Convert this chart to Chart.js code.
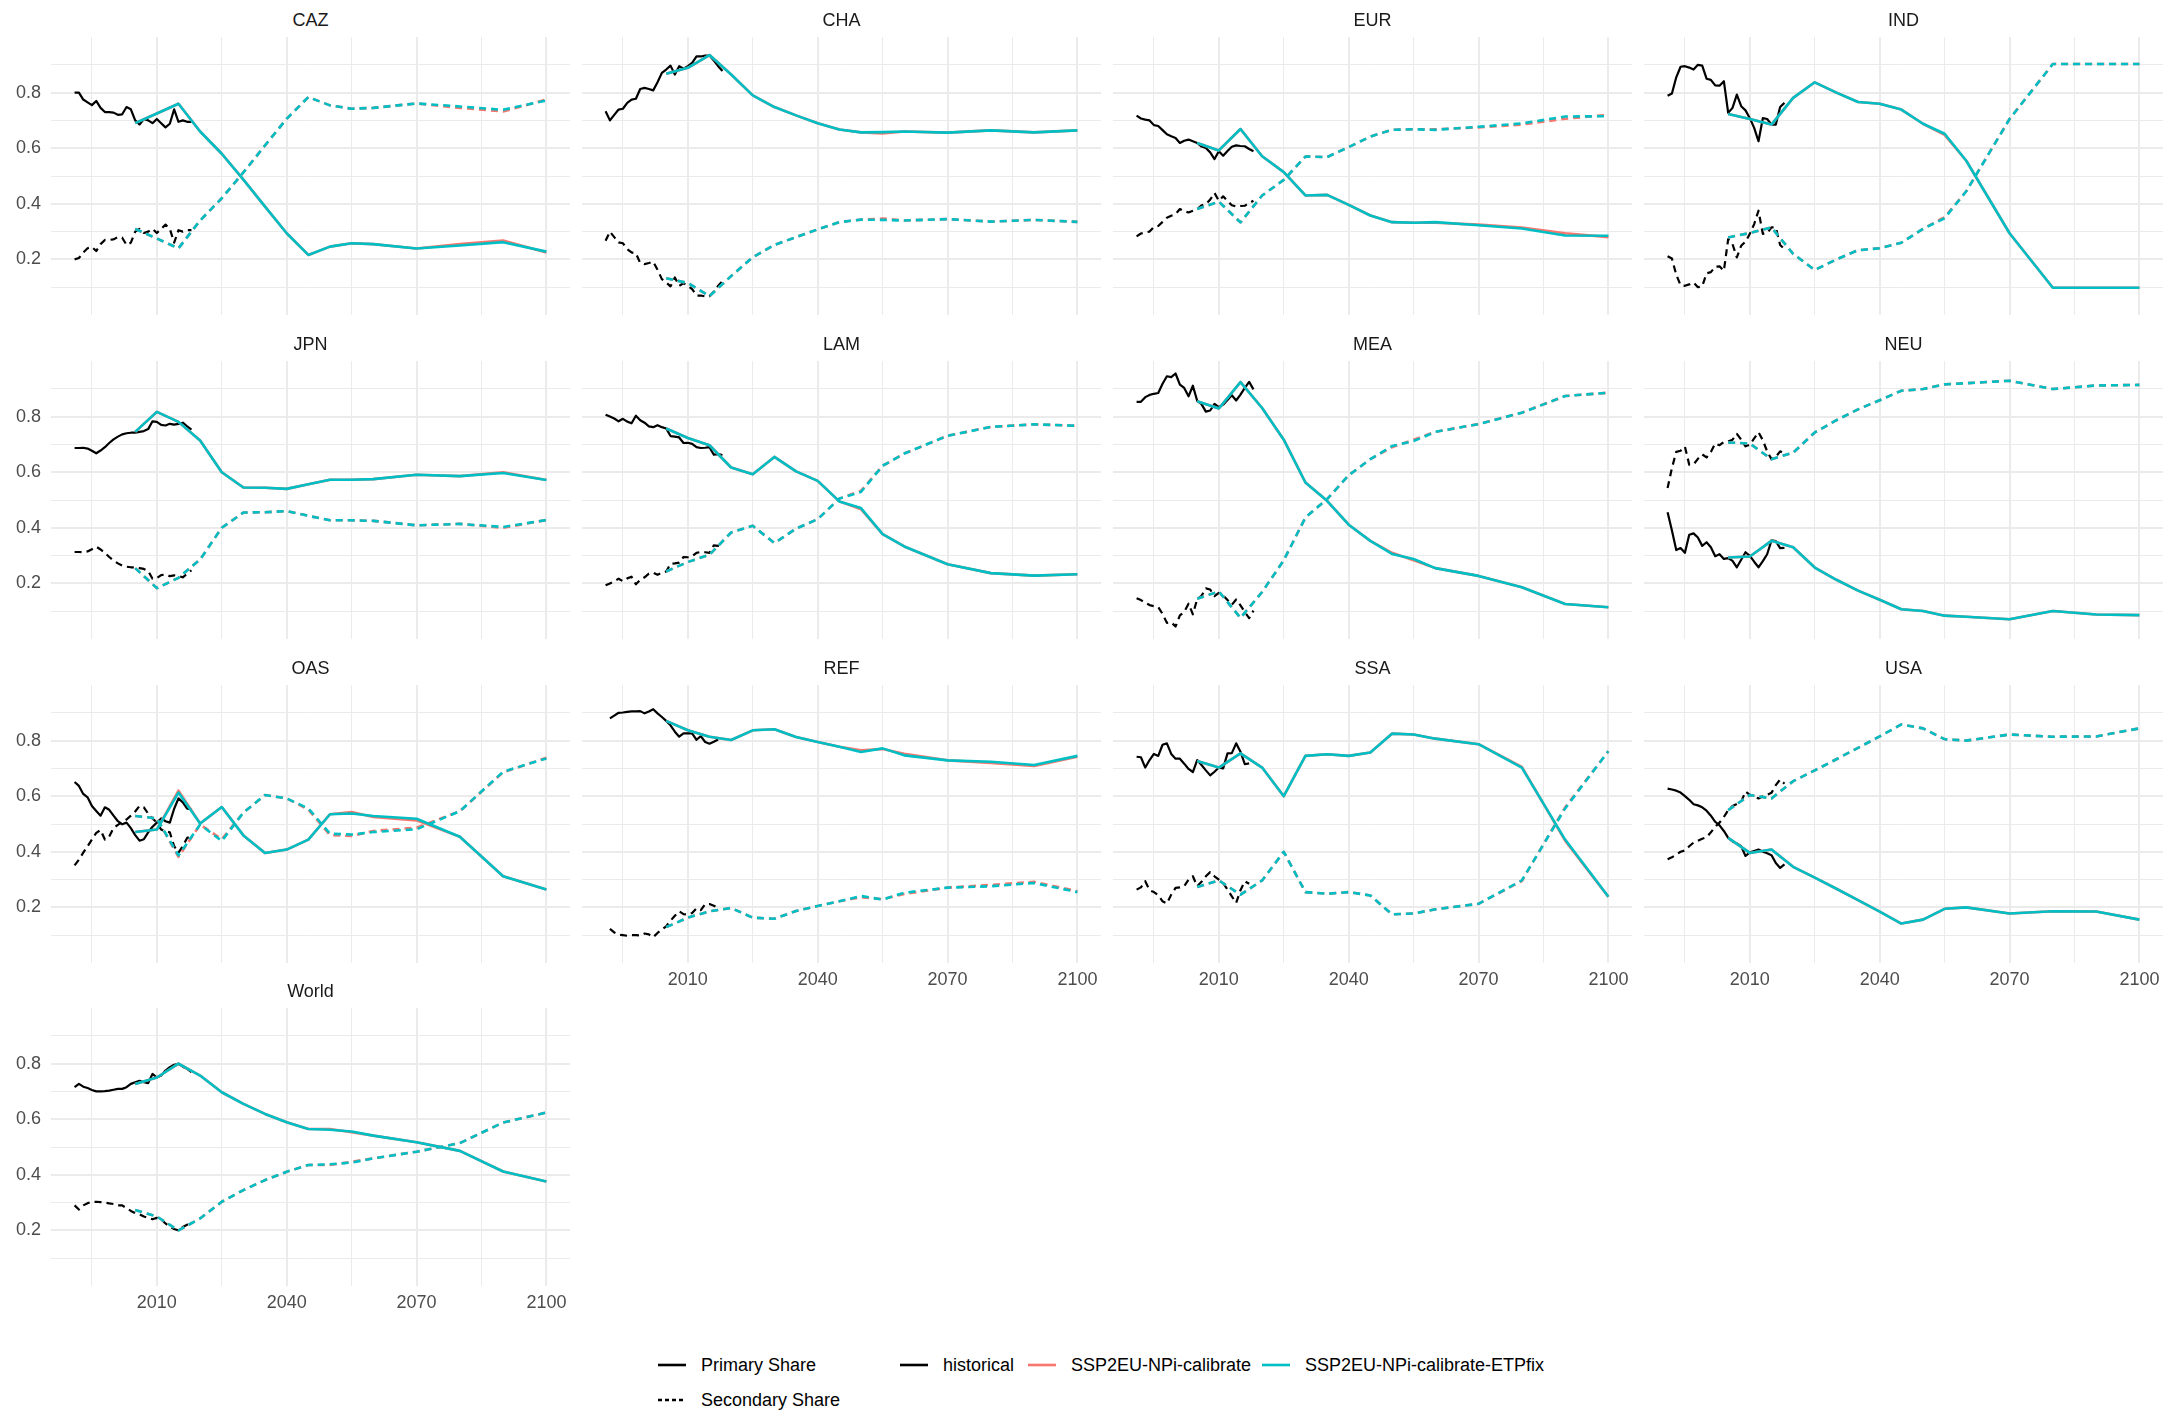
<!DOCTYPE html>
<html>
<head>
<meta charset="utf-8">
<script src="https://cdn.jsdelivr.net/npm/chart.js@4.4.1/dist/chart.umd.min.js"></script>
<style>
  body { margin: 0; background: #fff; width: 2179px; height: 1415px; position: relative; overflow: hidden;
         font-family: "Liberation Sans", Arial, sans-serif; }
  canvas { position: absolute; }
  .strip { position: absolute; text-align: center; font-size: 18px; line-height: 20px; color: #1a1a1a; }
  .leg { position: absolute; height: 20px; display: flex; align-items: center; font-size: 18px; color: #000; white-space: nowrap; }
  .leg svg { margin-right: 15px; }
</style>
</head>
<body>
<script>
const regions = ["CAZ", "CHA", "EUR", "IND", "JPN", "LAM", "MEA", "NEU", "OAS", "REF", "SSA", "USA", "World"];

const histYears = [1991, 1992, 1993, 1994, 1995, 1996, 1997, 1998, 1999, 2000, 2001, 2002, 2003, 2004,
                   2005, 2006, 2007, 2008, 2009, 2010, 2011, 2012, 2013, 2014, 2015, 2016, 2017, 2018];
const scenYears = [2005, 2010, 2015, 2020, 2025, 2030, 2035, 2040, 2045, 2050, 2055, 2060, 2070, 2080, 2090, 2100];

// historical, one row per region (same order as regions)
const histPrimary = [
  [0.80, 0.80, 0.775, 0.765, 0.755, 0.77, 0.745, 0.73, 0.73, 0.728, 0.72, 0.722, 0.748, 0.74, 0.70, 0.685, 0.705, 0.70, 0.69, 0.705, 0.69, 0.675, 0.688, 0.74, 0.695, 0.70, 0.695, 0.695],
  [0.733, 0.70, 0.72, 0.739, 0.742, 0.763, 0.775, 0.778, 0.813, 0.817, 0.813, 0.808, 0.837, 0.871, 0.883, 0.897, 0.865, 0.895, 0.886, 0.895, 0.907, 0.93, 0.93, 0.933, 0.933, 0.915, 0.895, 0.878],
  [0.717, 0.707, 0.703, 0.70, 0.683, 0.68, 0.665, 0.65, 0.643, 0.637, 0.619, 0.627, 0.631, 0.625, 0.619, 0.606, 0.601, 0.585, 0.561, 0.589, 0.573, 0.59, 0.605, 0.61, 0.608, 0.607, 0.597, 0.589],
  [0.789, 0.797, 0.855, 0.893, 0.895, 0.89, 0.883, 0.90, 0.897, 0.85, 0.846, 0.826, 0.825, 0.841, 0.727, 0.745, 0.793, 0.751, 0.736, 0.708, 0.673, 0.625, 0.708, 0.705, 0.685, 0.685, 0.748, 0.763],
  [0.687, 0.687, 0.688, 0.685, 0.677, 0.668, 0.678, 0.69, 0.705, 0.718, 0.728, 0.736, 0.74, 0.742, 0.742, 0.745, 0.748, 0.755, 0.783, 0.781, 0.77, 0.768, 0.774, 0.771, 0.774, 0.778, 0.765, 0.753],
  [0.807, 0.80, 0.793, 0.783, 0.792, 0.782, 0.776, 0.803, 0.787, 0.778, 0.765, 0.762, 0.769, 0.762, 0.757, 0.73, 0.728, 0.725, 0.705, 0.706, 0.702, 0.69, 0.687, 0.688, 0.69, 0.663, 0.665, 0.662],
  [0.853, 0.853, 0.87, 0.878, 0.882, 0.885, 0.918, 0.945, 0.942, 0.955, 0.915, 0.903, 0.873, 0.911, 0.857, 0.845, 0.818, 0.822, 0.846, 0.834, 0.843, 0.86, 0.877, 0.858, 0.879, 0.903, 0.925, 0.898],
  [0.456, 0.39, 0.32, 0.327, 0.31, 0.375, 0.38, 0.365, 0.335, 0.348, 0.33, 0.298, 0.305, 0.288, 0.291, 0.281, 0.258, 0.285, 0.312, 0.299, 0.278, 0.258, 0.28, 0.305, 0.355, 0.352, 0.327, 0.328],
  [0.651, 0.637, 0.608, 0.596, 0.565, 0.547, 0.53, 0.56, 0.551, 0.53, 0.51, 0.499, 0.505, 0.485, 0.46, 0.44, 0.445, 0.47, 0.49, 0.505, 0.52, 0.51, 0.505, 0.555, 0.592, 0.578, 0.555, 0.553],
  [null, 0.88, 0.89, 0.90, 0.901, 0.903, 0.905, 0.905, 0.906, 0.898, 0.905, 0.913, 0.898, 0.885, 0.871, 0.855, 0.832, 0.814, 0.826, 0.826, 0.826, 0.803, 0.816, 0.795, 0.789, 0.796, 0.804, null],
  [0.742, 0.74, 0.703, 0.73, 0.752, 0.745, 0.785, 0.79, 0.752, 0.735, 0.735, 0.717, 0.698, 0.687, 0.73, 0.712, 0.693, 0.675, 0.688, 0.703, 0.70, 0.754, 0.755, 0.79, 0.76, 0.715, 0.718, null],
  [0.627, 0.624, 0.62, 0.613, 0.60, 0.587, 0.571, 0.567, 0.56, 0.548, 0.53, 0.508, 0.495, 0.475, 0.45, 0.437, 0.43, 0.42, 0.385, 0.398, 0.403, 0.408, 0.40, 0.395, 0.388, 0.36, 0.342, 0.355],
  [0.715, 0.727, 0.717, 0.712, 0.705, 0.70, 0.70, 0.701, 0.703, 0.706, 0.709, 0.709, 0.715, 0.727, 0.733, 0.738, 0.733, 0.73, 0.763, 0.75, 0.757, 0.775, 0.787, 0.796, 0.799, 0.789, 0.781, 0.769]
];
const histSecondary = [
  [0.20, 0.205, 0.225, 0.24, 0.245, 0.23, 0.255, 0.27, 0.27, 0.272, 0.28, 0.278, 0.252, 0.26, 0.30, 0.31, 0.295, 0.30, 0.31, 0.295, 0.31, 0.325, 0.31, 0.26, 0.305, 0.30, 0.305, 0.305],
  [0.267, 0.30, 0.28, 0.261, 0.258, 0.237, 0.225, 0.222, 0.187, 0.183, 0.187, 0.192, 0.163, 0.129, 0.117, 0.103, 0.135, 0.105, 0.114, 0.105, 0.093, 0.07, 0.07, 0.067, 0.067, 0.085, 0.105, 0.122],
  [0.283, 0.293, 0.297, 0.30, 0.317, 0.32, 0.335, 0.35, 0.357, 0.363, 0.381, 0.373, 0.369, 0.375, 0.381, 0.394, 0.399, 0.415, 0.439, 0.411, 0.427, 0.41, 0.395, 0.39, 0.392, 0.393, 0.403, 0.411],
  [0.211, 0.203, 0.145, 0.107, 0.105, 0.11, 0.117, 0.10, 0.103, 0.15, 0.154, 0.174, 0.175, 0.159, 0.273, 0.255, 0.207, 0.249, 0.264, 0.292, 0.327, 0.375, 0.292, 0.295, 0.315, 0.315, 0.252, 0.237],
  [0.313, 0.313, 0.312, 0.315, 0.323, 0.332, 0.322, 0.31, 0.295, 0.282, 0.272, 0.264, 0.26, 0.258, 0.258, 0.255, 0.252, 0.245, 0.217, 0.219, 0.23, 0.232, 0.226, 0.229, 0.226, 0.222, 0.235, 0.247],
  [0.193, 0.20, 0.207, 0.217, 0.208, 0.218, 0.224, 0.197, 0.213, 0.222, 0.235, 0.238, 0.231, 0.238, 0.243, 0.27, 0.272, 0.275, 0.295, 0.294, 0.298, 0.31, 0.313, 0.312, 0.31, 0.337, 0.335, 0.338],
  [0.147, 0.14, 0.13, 0.122, 0.118, 0.115, 0.09, 0.058, 0.06, 0.045, 0.085, 0.097, 0.127, 0.089, 0.143, 0.155, 0.182, 0.178, 0.154, 0.166, 0.157, 0.14, 0.123, 0.142, 0.121, 0.097, 0.075, 0.102],
  [0.543, 0.615, 0.673, 0.677, 0.692, 0.627, 0.628, 0.648, 0.664, 0.653, 0.673, 0.703, 0.697, 0.709, 0.71, 0.717, 0.738, 0.717, 0.693, 0.699, 0.722, 0.744, 0.715, 0.675, 0.647, 0.655, 0.675, 0.668],
  [0.351, 0.372, 0.397, 0.42, 0.444, 0.468, 0.478, 0.444, 0.455, 0.486, 0.497, 0.507, 0.516, 0.53, 0.545, 0.565, 0.56, 0.537, 0.52, 0.505, 0.48, 0.474, 0.47, 0.42, 0.397, 0.42, 0.45, 0.455],
  [null, 0.123, 0.11, 0.102, 0.10, 0.098, 0.10, 0.10, 0.099, 0.106, 0.103, 0.093, 0.108, 0.12, 0.132, 0.152, 0.17, 0.186, 0.176, 0.174, 0.18, 0.197, 0.19, 0.212, 0.212, 0.206, 0.198, null],
  [0.264, 0.272, 0.294, 0.262, 0.255, 0.244, 0.222, 0.214, 0.246, 0.27, 0.272, 0.276, 0.30, 0.312, 0.276, 0.292, 0.312, 0.327, 0.312, 0.30, 0.288, 0.264, 0.24, 0.216, 0.262, 0.294, 0.285, null],
  [0.373, 0.38, 0.39, 0.40, 0.405, 0.42, 0.433, 0.44, 0.447, 0.452, 0.47, 0.49, 0.505, 0.525, 0.55, 0.565, 0.572, 0.58, 0.617, 0.605, 0.598, 0.592, 0.60, 0.605, 0.612, 0.64, 0.66, 0.645],
  [0.29, 0.275, 0.29, 0.298, 0.302, 0.303, 0.302, 0.30, 0.297, 0.295, 0.29, 0.29, 0.28, 0.27, 0.262, 0.258, 0.25, 0.245, 0.24, 0.245, 0.24, 0.225, 0.213, 0.205, 0.20, 0.212, 0.22, 0.232]
];

// SSP2EU-NPi-calibrate-ETPfix
const etpPrimary = [
  [0.69, 0.725, 0.76, 0.66, 0.58, 0.487, 0.39, 0.294, 0.216, 0.246, 0.258, 0.255, 0.239, 0.25, 0.262, 0.228],
  [0.868, 0.889, 0.935, 0.865, 0.79, 0.748, 0.718, 0.69, 0.667, 0.657, 0.658, 0.66, 0.656, 0.664, 0.657, 0.664],
  [0.619, 0.592, 0.669, 0.571, 0.514, 0.43, 0.432, 0.396, 0.358, 0.334, 0.332, 0.334, 0.323, 0.311, 0.286, 0.285],
  [0.723, 0.705, 0.685, 0.781, 0.837, 0.80, 0.766, 0.76, 0.739, 0.688, 0.652, 0.555, 0.294, 0.098, 0.098, 0.098],
  [0.745, 0.817, 0.781, 0.714, 0.60, 0.545, 0.544, 0.54, 0.557, 0.573, 0.573, 0.575, 0.591, 0.586, 0.597, 0.572],
  [0.757, 0.723, 0.697, 0.617, 0.593, 0.655, 0.603, 0.569, 0.495, 0.471, 0.377, 0.333, 0.269, 0.237, 0.228, 0.233],
  [0.855, 0.829, 0.924, 0.831, 0.717, 0.563, 0.497, 0.411, 0.353, 0.306, 0.288, 0.255, 0.227, 0.186, 0.126, 0.114],
  [0.293, 0.297, 0.353, 0.33, 0.257, 0.213, 0.174, 0.141, 0.107, 0.101, 0.084, 0.08, 0.071, 0.101, 0.088, 0.086],
  [0.471, 0.48, 0.613, 0.502, 0.561, 0.459, 0.396, 0.408, 0.444, 0.535, 0.538, 0.529, 0.519, 0.454, 0.312, 0.264],
  [0.871, 0.837, 0.814, 0.802, 0.837, 0.841, 0.813, 0.795, 0.778, 0.759, 0.772, 0.747, 0.729, 0.724, 0.712, 0.745],
  [0.727, 0.703, 0.754, 0.703, 0.60, 0.745, 0.751, 0.745, 0.757, 0.825, 0.822, 0.807, 0.787, 0.703, 0.444, 0.238],
  [0.45, 0.396, 0.408, 0.346, 0.307, 0.267, 0.226, 0.185, 0.142, 0.156, 0.195, 0.20, 0.178, 0.186, 0.185, 0.156],
  [0.727, 0.75, 0.80, 0.757, 0.697, 0.655, 0.619, 0.589, 0.565, 0.562, 0.556, 0.541, 0.517, 0.486, 0.412, 0.376]
];
const etpSecondary = [
  [0.31, 0.275, 0.24, 0.34, 0.42, 0.513, 0.61, 0.706, 0.784, 0.754, 0.742, 0.745, 0.761, 0.75, 0.738, 0.772],
  [0.132, 0.115, 0.068, 0.14, 0.208, 0.252, 0.28, 0.308, 0.334, 0.343, 0.342, 0.34, 0.345, 0.336, 0.342, 0.335],
  [0.381, 0.408, 0.333, 0.43, 0.486, 0.57, 0.568, 0.604, 0.642, 0.666, 0.668, 0.666, 0.677, 0.689, 0.714, 0.715],
  [0.279, 0.295, 0.315, 0.22, 0.162, 0.20, 0.233, 0.24, 0.26, 0.31, 0.348, 0.445, 0.705, 0.903, 0.903, 0.903],
  [0.255, 0.183, 0.22, 0.286, 0.40, 0.455, 0.456, 0.46, 0.443, 0.427, 0.427, 0.425, 0.409, 0.414, 0.403, 0.428],
  [0.243, 0.277, 0.303, 0.383, 0.407, 0.345, 0.397, 0.431, 0.505, 0.529, 0.623, 0.667, 0.731, 0.763, 0.772, 0.767],
  [0.145, 0.171, 0.076, 0.169, 0.283, 0.437, 0.503, 0.589, 0.647, 0.694, 0.712, 0.745, 0.773, 0.814, 0.874, 0.886],
  [0.707, 0.703, 0.647, 0.67, 0.743, 0.787, 0.826, 0.859, 0.893, 0.899, 0.916, 0.92, 0.929, 0.899, 0.912, 0.914],
  [0.529, 0.52, 0.387, 0.498, 0.439, 0.541, 0.604, 0.592, 0.556, 0.465, 0.462, 0.471, 0.481, 0.546, 0.688, 0.736],
  [0.129, 0.163, 0.186, 0.198, 0.163, 0.159, 0.187, 0.205, 0.222, 0.241, 0.228, 0.253, 0.271, 0.276, 0.288, 0.255],
  [0.273, 0.297, 0.246, 0.297, 0.40, 0.255, 0.249, 0.255, 0.243, 0.175, 0.178, 0.193, 0.213, 0.297, 0.556, 0.762],
  [0.55, 0.604, 0.592, 0.654, 0.693, 0.733, 0.774, 0.815, 0.858, 0.844, 0.805, 0.80, 0.822, 0.814, 0.815, 0.844],
  [0.273, 0.25, 0.20, 0.243, 0.303, 0.345, 0.381, 0.411, 0.435, 0.438, 0.444, 0.459, 0.483, 0.514, 0.588, 0.624]
];

// SSP2EU-NPi-calibrate (mostly hidden under the ETPfix run)
const calPrimary = [
  [0.69, 0.725, 0.76, 0.66, 0.58, 0.487, 0.39, 0.294, 0.216, 0.246, 0.258, 0.255, 0.239, 0.255, 0.268, 0.225],
  [0.868, 0.889, 0.935, 0.865, 0.79, 0.748, 0.718, 0.69, 0.667, 0.657, 0.653, 0.66, 0.656, 0.664, 0.657, 0.664],
  [0.619, 0.592, 0.669, 0.571, 0.514, 0.43, 0.432, 0.396, 0.358, 0.334, 0.332, 0.332, 0.325, 0.315, 0.294, 0.28],
  [0.723, 0.705, 0.685, 0.781, 0.837, 0.80, 0.766, 0.76, 0.739, 0.688, 0.648, 0.555, 0.294, 0.098, 0.098, 0.098],
  [0.745, 0.817, 0.781, 0.714, 0.60, 0.545, 0.544, 0.54, 0.557, 0.573, 0.573, 0.575, 0.591, 0.586, 0.60, 0.572],
  [0.757, 0.723, 0.697, 0.617, 0.593, 0.655, 0.603, 0.569, 0.495, 0.467, 0.377, 0.333, 0.269, 0.237, 0.228, 0.233],
  [0.855, 0.829, 0.924, 0.831, 0.717, 0.563, 0.497, 0.411, 0.353, 0.31, 0.283, 0.255, 0.227, 0.186, 0.126, 0.114],
  [0.293, 0.297, 0.353, 0.33, 0.257, 0.213, 0.174, 0.141, 0.107, 0.101, 0.084, 0.08, 0.071, 0.101, 0.088, 0.086],
  [0.471, 0.48, 0.62, 0.502, 0.561, 0.459, 0.396, 0.408, 0.444, 0.535, 0.543, 0.525, 0.513, 0.454, 0.312, 0.264],
  [0.871, 0.837, 0.814, 0.802, 0.837, 0.841, 0.813, 0.795, 0.778, 0.765, 0.77, 0.753, 0.729, 0.72, 0.709, 0.742],
  [0.727, 0.703, 0.754, 0.703, 0.60, 0.745, 0.751, 0.745, 0.757, 0.825, 0.822, 0.807, 0.787, 0.705, 0.44, 0.238],
  [0.45, 0.396, 0.408, 0.346, 0.307, 0.267, 0.226, 0.185, 0.142, 0.156, 0.195, 0.20, 0.178, 0.186, 0.185, 0.156],
  [0.727, 0.75, 0.80, 0.757, 0.697, 0.655, 0.619, 0.589, 0.565, 0.565, 0.553, 0.541, 0.517, 0.486, 0.412, 0.376]
];
const calSecondary = [
  [0.31, 0.275, 0.24, 0.34, 0.42, 0.513, 0.61, 0.706, 0.784, 0.754, 0.742, 0.745, 0.761, 0.745, 0.732, 0.775],
  [0.132, 0.115, 0.068, 0.14, 0.208, 0.252, 0.28, 0.308, 0.334, 0.343, 0.347, 0.34, 0.345, 0.336, 0.342, 0.335],
  [0.381, 0.408, 0.333, 0.43, 0.486, 0.57, 0.568, 0.604, 0.642, 0.666, 0.668, 0.668, 0.675, 0.685, 0.706, 0.72],
  [0.279, 0.295, 0.315, 0.22, 0.162, 0.20, 0.233, 0.24, 0.26, 0.31, 0.352, 0.445, 0.705, 0.903, 0.903, 0.903],
  [0.255, 0.183, 0.22, 0.286, 0.40, 0.455, 0.456, 0.46, 0.443, 0.427, 0.427, 0.425, 0.409, 0.414, 0.40, 0.428],
  [0.243, 0.277, 0.303, 0.383, 0.407, 0.345, 0.397, 0.431, 0.505, 0.533, 0.623, 0.667, 0.731, 0.763, 0.772, 0.767],
  [0.145, 0.171, 0.076, 0.169, 0.283, 0.437, 0.503, 0.589, 0.647, 0.69, 0.717, 0.745, 0.773, 0.814, 0.874, 0.886],
  [0.707, 0.703, 0.647, 0.67, 0.743, 0.787, 0.826, 0.859, 0.893, 0.899, 0.916, 0.92, 0.929, 0.899, 0.912, 0.914],
  [0.529, 0.52, 0.382, 0.498, 0.445, 0.541, 0.604, 0.592, 0.552, 0.46, 0.457, 0.475, 0.487, 0.546, 0.686, 0.738],
  [0.129, 0.163, 0.186, 0.198, 0.163, 0.159, 0.187, 0.205, 0.222, 0.236, 0.23, 0.248, 0.271, 0.281, 0.292, 0.258],
  [0.273, 0.297, 0.246, 0.297, 0.40, 0.255, 0.249, 0.255, 0.243, 0.175, 0.178, 0.193, 0.213, 0.295, 0.56, 0.762],
  [0.55, 0.604, 0.592, 0.654, 0.693, 0.733, 0.774, 0.815, 0.858, 0.844, 0.805, 0.80, 0.822, 0.814, 0.815, 0.844],
  [0.273, 0.25, 0.20, 0.243, 0.303, 0.345, 0.381, 0.411, 0.435, 0.435, 0.447, 0.459, 0.483, 0.514, 0.588, 0.624]
];

const xGridYears = [1995, 2010, 2025, 2040, 2055, 2070, 2085, 2100];
const xLabelYears = [2010, 2040, 2070, 2100];
const yGridValues = [0.1, 0.2, 0.3, 0.4, 0.5, 0.6, 0.7, 0.8, 0.9];
const yLabelValues = [0.2, 0.4, 0.6, 0.8];

const TEAL = "#00BFC4";
const SALMON = "#F8766D";
const BLACK = "#000000";
const DASH = [7, 5];
const GRID = "#EBEBEB";

// panel geometry (plot area of each facet)
const plotW = 519, plotH = 278;
const rowTop = [37, 361, 685, 1008];
const yAxisW = 51, xAxisH = 36, M = 30;

function pts(years, vals) {
    return years.map((x, i) => ({ x: x, y: vals[i] }));
}

function line(data, color, dashed, width, order) {
    return {
        data: data,
        borderColor: color,
        borderWidth: width,
        borderDash: dashed ? DASH : [],
        borderCapStyle: "butt",
        borderJoinStyle: "round",
        pointRadius: 0,
        fill: false,
        tension: 0,
        order: order,
    };
}

regions.forEach((name, i) => {
    const col = i % 4;
    const row = Math.floor(i / 4);
    const isLeft = col === 0;
    const isBottom = i >= 9;
    const plotLeft = 51 + 531 * col;
    const axW = isLeft ? yAxisW : 0;
    const axH = isBottom ? xAxisH : 0;

    const strip = document.createElement("div");
    strip.className = "strip";
    strip.style.left = plotLeft + "px";
    strip.style.width = plotW + "px";
    strip.style.top = (rowTop[row] - 27) + "px";
    strip.textContent = name;
    document.body.appendChild(strip);

    const canvas = document.createElement("canvas");
    canvas.width = axW + plotW + M;
    canvas.height = M + plotH + Math.max(axH, M);
    canvas.style.left = (plotLeft - axW) + "px";
    canvas.style.top = (rowTop[row] - M) + "px";
    document.body.appendChild(canvas);

    new Chart(canvas.getContext("2d"), {
        type: "line",
        data: {
            datasets: [
                line(pts(scenYears, etpPrimary[i]), TEAL, false, 2.6, 0),
                line(pts(scenYears, etpSecondary[i]), TEAL, true, 2.6, 1),
                line(pts(scenYears, calPrimary[i]), SALMON, false, 2.6, 2),
                line(pts(scenYears, calSecondary[i]), SALMON, true, 2.6, 3),
                line(pts(histYears, histPrimary[i]), BLACK, false, 2.2, 4),
                line(pts(histYears, histSecondary[i]), BLACK, true, 2.2, 5),
            ],
        },
        options: {
            responsive: false,
            animation: false,
            devicePixelRatio: 1,
            layout: { padding: { left: 0, top: M, right: M, bottom: isBottom ? 0 : M } },
            plugins: { legend: { display: false }, tooltip: { enabled: false } },
            scales: {
                x: {
                    type: "linear",
                    min: 1985.55,
                    max: 2105.45,
                    afterBuildTicks: (s) => { s.ticks = xGridYears.map((v) => ({ value: v })); },
                    afterFit: (s) => { s.height = axH; },
                    border: { display: false },
                    grid: {
                        color: GRID,
                        drawTicks: false,
                        lineWidth: (ctx) => (ctx.tick && xLabelYears.includes(ctx.tick.value) ? 2 : 1),
                    },
                    ticks: {
                        display: isBottom,
                        autoSkip: false,
                        maxRotation: 0,
                        padding: 6,
                        color: "#4D4D4D",
                        font: { family: "'Liberation Sans', Arial, sans-serif", size: 18 },
                        callback: (v) => (xLabelYears.includes(v) ? String(v) : ""),
                    },
                },
                y: {
                    min: 0,
                    max: 1,
                    afterBuildTicks: (s) => { s.ticks = yGridValues.map((v) => ({ value: v })); },
                    afterFit: (s) => { s.width = axW; },
                    border: { display: false },
                    grid: {
                        color: GRID,
                        drawTicks: false,
                        lineWidth: (ctx) => (ctx.tick && yLabelValues.includes(ctx.tick.value) ? 2 : 1),
                    },
                    ticks: {
                        display: isLeft,
                        padding: 10,
                        color: "#4D4D4D",
                        font: { family: "'Liberation Sans', Arial, sans-serif", size: 18 },
                        callback: (v) => (yLabelValues.includes(v) ? v.toFixed(1) : ""),
                    },
                },
            },
        },
    });
});

// legend at the bottom
const legendItems = [
    { text: "Primary Share", left: 658, top: 1355, color: BLACK, dashed: false },
    { text: "Secondary Share", left: 658, top: 1390, color: BLACK, dashed: true },
    { text: "historical", left: 900, top: 1355, color: BLACK, dashed: false },
    { text: "SSP2EU-NPi-calibrate", left: 1028, top: 1355, color: SALMON, dashed: false },
    { text: "SSP2EU-NPi-calibrate-ETPfix", left: 1262, top: 1355, color: TEAL, dashed: false },
];
legendItems.forEach((it) => {
    const d = document.createElement("div");
    d.className = "leg";
    d.style.left = it.left + "px";
    d.style.top = it.top + "px";
    const dash = it.dashed ? ' stroke-dasharray="4 3"' : "";
    d.innerHTML = '<svg width="28" height="20"><line x1="0" y1="10" x2="28" y2="10" stroke="' + it.color +
        '" stroke-width="2.6"' + dash + '/></svg><span>' + it.text + '</span>';
    document.body.appendChild(d);
});
</script>
</body>
</html>
